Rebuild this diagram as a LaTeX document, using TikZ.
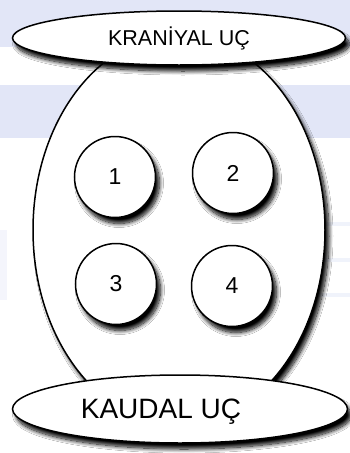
\documentclass[tikz,border=0pt]{standalone}
\usepackage{fontspec}
\setmainfont{Liberation Sans}
\usetikzlibrary{shapes.geometric,shadows.blur}
\definecolor{bgblue}{HTML}{E2E6F7}
\tikzset{
  shp/.style={draw=black, line width=1.5pt, fill=white,
    blur shadow={shadow xshift=4pt, shadow yshift=-6pt, shadow blur radius=4pt, shadow blur steps=12, shadow opacity=100}},
  endcap/.style={shp, ellipse, inner sep=0pt},
  cell/.style={shp, circle, inner sep=0pt, minimum size=81pt, font=\fontsize{23}{25}\selectfont},
}
\begin{document}
\begin{tikzpicture}[x=1pt,y=-1pt]
\useasboundingbox (0,0) rectangle (350,453);
% background
\fill[white] (0,0) rectangle (350,453);
\fill[bgblue] (0,0) rectangle (350,47);
\fill[bgblue] (0,85) rectangle (350,138);
\fill[bgblue!40] (0,230) rectangle (7,300);
\fill[bgblue!50] (300,222) rectangle (350,226);
\fill[bgblue!50] (300,258) rectangle (350,262);
\fill[bgblue!50] (300,293) rectangle (350,297);
% body
\node[shp, ellipse, inner sep=0pt, minimum width=292pt, minimum height=390pt] (body) at (179,230) {};
\node[cell] (c1) at (115,177) {1};
\node[cell] (c2) at (233,173) {2};
\node[cell] (c3) at (116,284) {3};
\node[cell] (c4) at (232,286) {4};
% ends
\node[endcap, minimum width=333pt, minimum height=54pt, font=\fontsize{21.5}{24}\selectfont] (kran) at (179,38) {KRANİYAL UÇ};
\node[endcap, minimum width=335pt, minimum height=68pt] (kaud) at (180,409) {};
\node[font=\fontsize{28}{30}\selectfont] (kaudt) at (161,412) {KAUDAL UÇ};
\end{tikzpicture}
\end{document}
